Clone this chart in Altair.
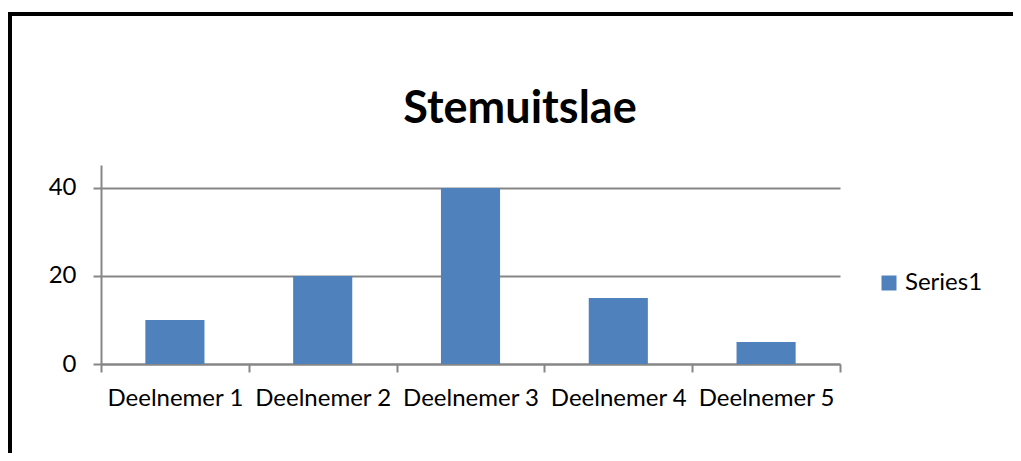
import altair as alt
import pandas as pd

categories = ["Deelnemer 1", "Deelnemer 2", "Deelnemer 3", "Deelnemer 4", "Deelnemer 5"]
values = [10, 20, 40, 15, 5]
series = ["Series1"] * 5
y_ticks = [0, 20, 40]
title_text = "Stemuitslae"

df = pd.DataFrame({"cat": categories, "val": values, "series": series})

FONT = "Lato"
GRAY = "#868686"
FS = 24

bars = alt.Chart(df).mark_bar(width=alt.RelativeBandSize(0.4)).encode(
    x=alt.X("cat:N", sort=categories, title=None,
            scale=alt.Scale(paddingInner=0, paddingOuter=0),
            axis=alt.Axis(labelAngle=0, tickBand="extent", tickSize=8, tickColor=GRAY,
                          tickWidth=2, domainColor=GRAY, domainWidth=2,
                          labelFont=FONT, labelFontSize=FS, labelColor="#000000",
                          labelPadding=14, labelBaseline="top", grid=False)),
    y=alt.Y("val:Q", title=None,
            scale=alt.Scale(domain=[0, 45.2], nice=False),
            axis=alt.Axis(values=y_ticks, tickSize=8, tickColor=GRAY, tickWidth=2,
                          domainColor=GRAY, domainWidth=2, gridColor=GRAY, gridWidth=2,
                          labelFont=FONT, labelFontSize=FS, labelColor="#000000",
                          labelPadding=17)),
    color=alt.Color("series:N", scale=alt.Scale(range=["#4F81BD"]),
                    legend=alt.Legend(title=None, orient="none", legendX=776, legendY=106,
                                      symbolType="square", symbolSize=225,
                                      symbolStrokeWidth=0, labelFont=FONT,
                                      labelFontSize=FS, labelColor="#000000",
                                      labelOffset=4)),
)

border = alt.Chart(pd.DataFrame({"a": [0]})).mark_rect(
    fill=None, stroke="#000000", strokeWidth=4, clip=False
).encode(x=alt.value(-91), x2=alt.value(1100), y=alt.value(-151), y2=alt.value(600))

title = alt.Chart(pd.DataFrame({"t": [title_text]})).mark_text(
    font=FONT, fontSize=45, fontWeight="bold", color="#000000",
    align="center", baseline="alphabetic"
).encode(text="t:N", x=alt.value(419), y=alt.value(-42))

chart = alt.layer(border, title, bars).properties(
    width=739, height=199,
    autosize=alt.AutoSizeParams(type="none"),
    padding={"left": 93, "top": 157, "right": 173, "bottom": 89},
).configure_view(stroke=None)

chart.save("out.html", embed_options={"renderer": "svg", "actions": False})
